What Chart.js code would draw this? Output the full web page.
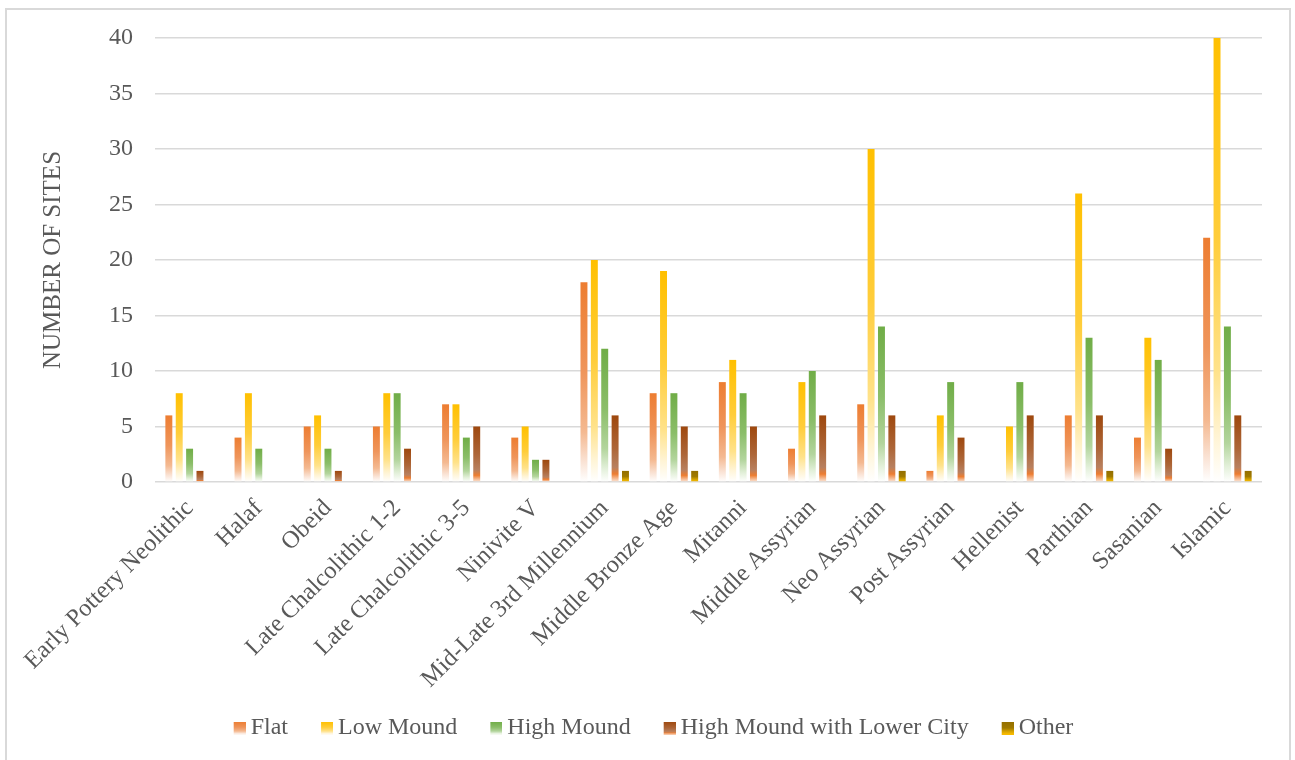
<!DOCTYPE html>
<html>
<head>
<meta charset="utf-8">
<script src="https://cdn.jsdelivr.net/npm/chart.js@4/dist/chart.umd.min.js"></script>
<style>
  html, body { margin: 0; padding: 0; background: #ffffff; }
  #wrap { position: relative; width: 1295px; height: 760px; }
</style>
</head>
<body>
<div id="wrap"><canvas id="chart" width="1295" height="760"></canvas></div>
<script>
// Site counts by period and settlement type
const categories = [
  'Early Pottery Neolithic', 'Halaf', 'Obeid', 'Late Chalcolithic 1-2',
  'Late Chalcolithic 3-5', 'Ninivite V', 'Mid-Late 3rd Millennium',
  'Middle Bronze Age', 'Mitanni', 'Middle Assyrian', 'Neo Assyrian',
  'Post Assyrian', 'Hellenist', 'Parthian', 'Sasanian', 'Islamic'
];
const seriesNames = ['Flat', 'Low Mound', 'High Mound', 'High Mound with Lower City', 'Other'];
const flat               = [6, 4, 5, 5, 7, 4, 18, 8, 9, 3, 7, 1, 0, 6, 4, 22];
const lowMound           = [8, 8, 6, 8, 7, 5, 20, 19, 11, 9, 30, 6, 5, 26, 13, 40];
const highMound          = [3, 3, 3, 8, 4, 2, 12, 8, 8, 10, 14, 9, 9, 13, 11, 14];
const highMoundLowerCity = [1, 0, 1, 3, 5, 2, 6, 5, 5, 6, 6, 4, 6, 6, 3, 6];
const other              = [0, 0, 0, 0, 0, 0, 1, 1, 0, 0, 1, 0, 0, 1, 0, 1];
const yTickValues = [0, 5, 10, 15, 20, 25, 30, 35, 40];

// Vertical gradient stops for each series (top of bar = 0, base = 1)
const gradientStops = [
  [[0, '#ED7D31'], [0.45, '#EF955B'], [0.75, '#F4B991'], [0.9, '#FAE3D5'], [1, '#FFFFFF']],
  [[0, '#FFC000'], [0.45, '#FFCD3A'], [0.75, '#FFE28A'], [0.9, '#FFF4D5'], [1, '#FFFFFF']],
  [[0, '#70AD47'], [0.45, '#8BBE69'], [0.75, '#B3D59D'], [0.9, '#E3F0DA'], [1, '#FFFFFF']],
  [[0, '#9E480E'], [0.5, '#AD6638'], [0.78, '#B8805F'], [0.88, '#ED7D31'], [1, '#FCE9DC']],
  [[0, '#946F00'], [0.5, '#A07A00'], [0.8, '#DDA800'], [1, '#FFC000']]
];
const baseColors = ['#ED7D31', '#FFC000', '#70AD47', '#9E480E', '#997300'];
const textColor = '#595959';
const serif = '"Liberation Serif", "Times New Roman", serif';

function barGradient(seriesIndex) {
  return (ctx) => {
    if (ctx.type !== 'data') return baseColors[seriesIndex];
    const chart = ctx.chart;
    const yScale = chart.scales.y;
    if (!chart.chartArea || !yScale) return baseColors[seriesIndex];
    const top = yScale.getPixelForValue(ctx.raw);
    const base = yScale.getPixelForValue(0);
    if (!(base > top)) return baseColors[seriesIndex];
    const g = chart.ctx.createLinearGradient(0, top, 0, base);
    gradientStops[seriesIndex].forEach(([o, c]) => g.addColorStop(o, c));
    return g;
  };
}

// Small gradient swatches for the legend, with room to the left as item spacing
const swatchSlot = 26;
function makeSwatch(seriesIndex) {
  const c = document.createElement('canvas');
  c.width = swatchSlot + 14;
  c.height = 13;
  const g2 = c.getContext('2d');
  const grad = g2.createLinearGradient(0, 0, 0, 13);
  gradientStops[seriesIndex].forEach(([o, col]) => grad.addColorStop(o, col));
  g2.fillStyle = grad;
  g2.fillRect(c.width - 12, 0, 12, 13);
  return c;
}
const swatches = seriesNames.map((_, i) => makeSwatch(i));

const seriesValues = [flat, lowMound, highMound, highMoundLowerCity, other];

const frame = {
  id: 'frame',
  beforeDraw(chart) {
    const c = chart.ctx;
    c.save();
    c.fillStyle = '#ffffff';
    c.fillRect(0, 0, chart.width, chart.height);
    c.strokeStyle = '#d9d9d9';
    c.lineWidth = 2;
    c.strokeRect(6, 9, 1284, 800);
    c.restore();
  }
};

new Chart(document.getElementById('chart'), {
  type: 'bar',
  data: {
    labels: categories,
    datasets: seriesNames.map((name, i) => ({
      label: name,
      data: seriesValues[i],
      backgroundColor: barGradient(i),
      borderWidth: 0,
      barPercentage: 0.67,
      categoryPercentage: 0.75
    }))
  },
  options: {
    responsive: false,
    animation: false,
    devicePixelRatio: 1,
    layout: { padding: { left: 24, right: 33, top: 38, bottom: 10 } },
    plugins: {
      tooltip: { enabled: false },
      legend: {
        position: 'bottom',
        align: 'center',
        labels: {
          usePointStyle: true,
          pointStyleWidth: swatchSlot,
          boxHeight: 13,
          padding: 12,
          color: textColor,
          font: { family: serif, size: 24 },
          generateLabels(chart) {
            return chart.data.datasets.map((ds, i) => ({
              text: ds.label,
              pointStyle: swatches[i],
              fillStyle: 'rgba(0,0,0,0)',
              strokeStyle: 'rgba(0,0,0,0)',
              lineWidth: 0,
              fontColor: textColor,
              hidden: !chart.isDatasetVisible(i),
              datasetIndex: i
            }));
          }
        }
      }
    },
    scales: {
      x: {
        grid: { display: false },
        border: { display: false },
        ticks: {
          color: textColor,
          font: { family: serif, size: 24.5 },
          minRotation: 45,
          maxRotation: 45,
          autoSkip: false,
          padding: 4
        },
        afterFit(scale) { scale.height = 222; }
      },
      y: {
        min: 0,
        max: 40,
        grid: { color: '#d9d9d9', lineWidth: 1.5, drawTicks: false },
        border: { display: false },
        afterBuildTicks(scale) { scale.ticks = yTickValues.map(v => ({ value: v })); },
        ticks: {
          color: textColor,
          font: { family: serif, size: 24 },
          padding: 22
        },
        title: {
          display: true,
          text: 'NUMBER OF SITES',
          color: textColor,
          font: { family: serif, size: 25 },
          padding: { top: 14, bottom: 0 }
        },
        afterFit(scale) { scale.width = 131; }
      }
    }
  },
  plugins: [frame]
});
</script>
</body>
</html>
